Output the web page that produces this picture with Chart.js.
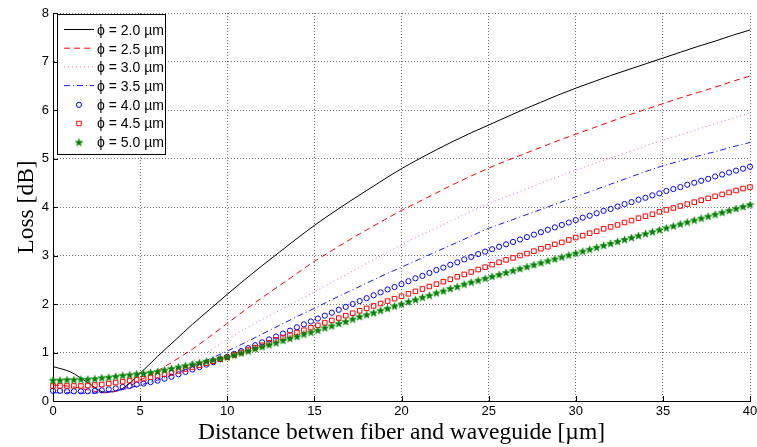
<!DOCTYPE html>
<html>
<head>
<meta charset="utf-8">
<script src="https://cdn.jsdelivr.net/npm/chart.js@4"></script>
<style>
  html, body { margin: 0; padding: 0; background: #fff; }
  canvas { display: block; }
</style>
</head>
<body>
<canvas id="lossChart" width="757" height="447"></canvas>
<script>
// distance samples (µm)
const lineX = [0,1,2,3,4,5,6,7,8,9,10,11,12,13,14,15,16,17,18,19,20,
  21,22,23,24,25,26,27,28,29,30,31,32,33,34,35,36,37,38,39,40];
const markX = [0,0.4,0.8,1.2,1.6,2,2.4,2.8,3.2,3.6,4,4.4,4.8,5.2,5.6,6,6.4,6.8,7.2,7.6,8,8.4,8.8,9.2,9.6,10,
  10.4,10.8,11.2,11.6,12,12.4,12.8,13.2,13.6,14,14.4,14.8,15.2,15.6,16,16.4,16.8,17.2,17.6,18,18.4,18.8,19.2,19.6,20,
  20.4,20.8,21.2,21.6,22,22.4,22.8,23.2,23.6,24,24.4,24.8,25.2,25.6,26,26.4,26.8,27.2,27.6,28,28.4,28.8,29.2,29.6,30,
  30.4,30.8,31.2,31.6,32,32.4,32.8,33.2,33.6,34,34.4,34.8,35.2,35.6,36,36.4,36.8,37.2,37.6,38,38.4,38.8,39.2,39.6,40];

// loss [dB] per fiber diameter
const loss20 = [0.71,0.60,0.38,0.18,0.26,0.57,0.92,1.25,1.58,1.89,2.20,2.50,2.79,3.07,3.35,3.62,3.87,4.11,4.34,4.57,4.79,
  4.99,5.18,5.36,5.53,5.69,5.85,6.01,6.16,6.31,6.45,6.58,6.71,6.83,6.95,7.07,7.19,7.31,7.42,7.54,7.65];
const loss25 = [0.33,0.30,0.23,0.17,0.24,0.43,0.62,0.84,1.07,1.33,1.60,1.87,2.13,2.38,2.63,2.88,3.10,3.32,3.53,3.73,3.93,
  4.11,4.29,4.47,4.64,4.80,4.95,5.09,5.23,5.37,5.50,5.63,5.76,5.89,6.01,6.13,6.25,6.36,6.47,6.59,6.70];
const loss30 = [0.22,0.21,0.18,0.17,0.22,0.32,0.45,0.61,0.82,1.04,1.27,1.48,1.68,1.87,2.06,2.25,2.45,2.64,2.84,3.03,3.22,
  3.40,3.57,3.74,3.91,4.07,4.21,4.35,4.49,4.63,4.76,4.89,5.01,5.13,5.26,5.38,5.49,5.60,5.72,5.83,5.94];
const loss35 = [0.17,0.17,0.16,0.18,0.24,0.33,0.43,0.56,0.71,0.87,1.03,1.20,1.38,1.56,1.74,1.91,2.09,2.26,2.43,2.60,2.76,
  2.92,3.08,3.24,3.40,3.56,3.69,3.82,3.95,4.08,4.21,4.34,4.47,4.60,4.73,4.85,4.95,5.05,5.14,5.24,5.33];
const loss40 = [0.21,0.21,0.20,0.20,0.20,0.20,0.21,0.22,0.24,0.26,0.29,0.31,0.34,0.36,0.39,0.42,0.46,0.50,0.55,0.60,0.65,0.70,0.75,0.80,0.86,0.91,
  0.97,1.03,1.09,1.15,1.21,1.27,1.33,1.39,1.45,1.52,1.58,1.64,1.70,1.76,1.82,1.88,1.94,2.00,2.06,2.12,2.18,2.24,2.30,2.35,2.41,
  2.47,2.53,2.58,2.64,2.70,2.75,2.81,2.86,2.92,2.97,3.03,3.08,3.13,3.18,3.23,3.28,3.33,3.38,3.43,3.48,3.53,3.58,3.63,3.68,3.73,
  3.78,3.82,3.87,3.92,3.96,4.01,4.06,4.10,4.15,4.19,4.24,4.28,4.33,4.37,4.41,4.46,4.50,4.54,4.58,4.63,4.67,4.71,4.75,4.79,4.83];
const loss45 = [0.31,0.31,0.31,0.31,0.31,0.32,0.33,0.34,0.36,0.38,0.40,0.42,0.44,0.46,0.49,0.52,0.55,0.58,0.62,0.66,0.70,0.74,0.78,0.82,0.86,0.90,
  0.95,1.00,1.05,1.10,1.15,1.20,1.26,1.31,1.36,1.41,1.46,1.51,1.56,1.61,1.66,1.71,1.76,1.81,1.86,1.91,1.96,2.01,2.06,2.11,2.16,
  2.21,2.26,2.31,2.36,2.41,2.46,2.51,2.56,2.61,2.66,2.71,2.76,2.81,2.86,2.91,2.95,3.00,3.04,3.09,3.14,3.18,3.23,3.27,3.32,3.37,
  3.41,3.46,3.50,3.55,3.59,3.63,3.68,3.72,3.77,3.81,3.85,3.90,3.94,3.98,4.02,4.06,4.10,4.14,4.18,4.22,4.26,4.30,4.34,4.38,4.41];
const loss50 = [0.43,0.43,0.44,0.44,0.45,0.45,0.46,0.48,0.49,0.51,0.53,0.54,0.56,0.57,0.59,0.61,0.64,0.67,0.70,0.73,0.76,0.79,0.82,0.85,0.88,0.91,
  0.95,0.99,1.03,1.08,1.12,1.16,1.20,1.25,1.29,1.33,1.38,1.42,1.46,1.51,1.55,1.60,1.64,1.69,1.74,1.78,1.82,1.87,1.91,1.96,2.00,
  2.05,2.09,2.14,2.18,2.23,2.27,2.32,2.36,2.41,2.45,2.49,2.53,2.57,2.61,2.65,2.69,2.73,2.77,2.81,2.85,2.89,2.93,2.97,3.01,3.05,
  3.09,3.13,3.17,3.21,3.25,3.29,3.33,3.37,3.41,3.45,3.49,3.53,3.57,3.61,3.65,3.69,3.73,3.77,3.81,3.85,3.89,3.93,3.97,4.01,4.05];

const xTicks = [0,5,10,15,20,25,30,35,40];
const yTicks = [0,1,2,3,4,5,6,7,8];
const labels = ['ϕ = 2.0 µm','ϕ = 2.5 µm','ϕ = 3.0 µm','ϕ = 3.5 µm','ϕ = 4.0 µm','ϕ = 4.5 µm','ϕ = 5.0 µm'];

function pts(xs, ys) {
  return xs.map((x, i) => ({ x: x, y: ys[i] }));
}

// filled pentagram like matlab's 'p' marker
function makeStar(size, color) {
  const c = document.createElement('canvas');
  c.width = c.height = size;
  const g = c.getContext('2d');
  const R = size / 2 - 0.5, r = R * 0.42;
  g.beginPath();
  for (let k = 0; k < 10; k++) {
    const rad = k % 2 ? r : R;
    const a = -Math.PI / 2 + k * Math.PI / 5;
    g.lineTo(size / 2 + rad * Math.cos(a), size / 2 + 0.4 + rad * Math.sin(a));
  }
  g.closePath();
  g.fillStyle = color;
  g.fill();
  g.strokeStyle = color;
  g.lineWidth = 0.5;
  g.stroke();
  return c;
}
const star = makeStar(9, '#008000');

const lineSet = (label, data, color, dash) => ({
  label, data: pts(lineX, data), borderColor: color, borderWidth: 1, borderDash: dash,
  pointRadius: 0, cubicInterpolationMode: 'monotone', fill: false
});
const markSet = (label, data, color, style, r) => ({
  label, data: pts(markX, data), borderColor: color, backgroundColor: 'rgba(0,0,0,0)',
  showLine: false, pointStyle: style, pointRadius: r, pointBorderWidth: 1,
  pointBorderColor: color, pointBackgroundColor: 'rgba(0,0,0,0)', clip: 6
});

const datasets = [
  lineSet(labels[0], loss20, '#000000', []),
  lineSet(labels[1], loss25, '#ff0000', [6, 4]),
  lineSet(labels[2], loss30, '#e060e0', [1, 3]),
  lineSet(labels[3], loss35, '#1a1aff', [6, 3, 1, 3]),
  markSet(labels[4], loss40, '#0000ff', 'circle', 2.6),
  markSet(labels[5], loss45, '#ff0000', 'rect', 3.2),
  markSet(labels[6], loss50, '#008000', star, 4)
];
datasets.forEach((d, i) => { d.order = datasets.length - i; });

// legend box in upper left + inward ticks, drawn on top
const extras = {
  id: 'extras',
  afterDraw(chart) {
    const ctx = chart.ctx;
    const a = chart.chartArea;
    const xs = chart.scales.x, ys = chart.scales.y;
    ctx.save();
    ctx.strokeStyle = '#000';
    ctx.lineWidth = 1;
    ctx.setLineDash([]);
    ctx.beginPath();
    xTicks.forEach(v => {
      const px = Math.round(xs.getPixelForValue(v)) + 0.5;
      ctx.moveTo(px, a.bottom); ctx.lineTo(px, a.bottom - 5);
    });
    yTicks.forEach(v => {
      const py = Math.round(ys.getPixelForValue(v)) + 0.5;
      ctx.moveTo(a.left, py); ctx.lineTo(a.left + 5, py);
    });
    ctx.stroke();

    // legend
    const bx = 57.5, by = 14.5, bw = 108, bh = 140;
    ctx.fillStyle = '#fff';
    ctx.fillRect(bx, by, bw, bh);
    ctx.strokeRect(bx, by, bw, bh);
    ctx.font = '14px "Liberation Sans", Arial, sans-serif';
    ctx.textBaseline = 'middle';
    ctx.textAlign = 'left';
    chart.data.datasets.forEach((d, i) => {
      const yy = 31 + i * 18.7;
      ctx.strokeStyle = d.borderColor;
      if (d.showLine === false) {
        ctx.setLineDash([]);
        ctx.fillStyle = 'rgba(0,0,0,0)';
        ctx.lineWidth = 1;
        Chart.helpers.drawPoint(ctx, { pointStyle: d.pointStyle, radius: d.pointRadius, borderWidth: 1, rotation: 0 }, 79, yy - 1);
      } else {
        ctx.setLineDash(d.borderDash);
        ctx.lineWidth = 1;
        ctx.beginPath();
        ctx.moveTo(64, yy - 1.5); ctx.lineTo(94, yy - 1.5);
        ctx.stroke();
      }
      ctx.setLineDash([]);
      ctx.fillStyle = '#000';
      ctx.fillText(d.label, 97, yy);
    });
    ctx.restore();
  }
};

new Chart(document.getElementById('lossChart'), {
  type: 'line',
  data: { datasets },
  options: {
    responsive: false,
    animation: false,
    devicePixelRatio: 1,
    layout: { padding: { left: 0, right: 7, top: 13, bottom: 0 } },
    plugins: { legend: { display: false }, tooltip: { enabled: false } },
    scales: {
      x: {
        type: 'linear', min: 0, max: 40,
        afterBuildTicks: s => { s.ticks = xTicks.map(v => ({ value: v })); },
        afterFit: s => { s.height = 46; s.paddingLeft = 0; s.paddingRight = 0; },
        ticks: { color: '#000', padding: 3, maxRotation: 0, font: { family: '"Liberation Sans", Arial, sans-serif', size: 13 } },
        grid: { color: 'rgba(0,0,0,0.55)', lineWidth: 1, drawTicks: false },
        border: { display: true, color: '#000', width: 1, dash: [1, 2] },
        title: {
          display: true, text: 'Distance betwen fiber and waveguide [µm]', color: '#000',
          font: { family: '"Liberation Serif", "Times New Roman", serif', size: 23.5, lineHeight: 1.1 },
          padding: { top: 0, bottom: 1 }
        }
      },
      y: {
        type: 'linear', min: 0, max: 8,
        afterBuildTicks: s => { s.ticks = yTicks.map(v => ({ value: v })); },
        afterFit: s => { s.width = 53; s.paddingTop = 0; s.paddingBottom = 0; },
        ticks: { color: '#000', padding: 4, font: { family: '"Liberation Sans", Arial, sans-serif', size: 13 } },
        grid: { color: 'rgba(0,0,0,0.55)', lineWidth: 1, drawTicks: false },
        border: { display: true, color: '#000', width: 1, dash: [1, 2] },
        title: {
          display: true, text: 'Loss [dB]', color: '#000',
          font: { family: '"Liberation Serif", "Times New Roman", serif', size: 23.5, lineHeight: 1.1 },
          padding: { top: 14, bottom: 0 }
        }
      }
    }
  },
  plugins: [extras]
});
</script>
</body>
</html>
